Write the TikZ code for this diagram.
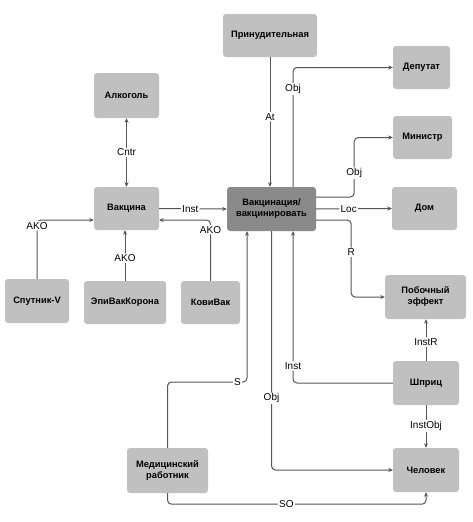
\documentclass[tikz,border=0pt]{standalone}
\usepackage{fontspec}
\setmainfont{Liberation Sans}
\usetikzlibrary{arrows.meta,calc}
\definecolor{boxfill}{HTML}{C0C0C0}
\definecolor{cenfill}{HTML}{8A8A8A}
\definecolor{linec}{HTML}{555555}
\tikzset{
  box/.style={draw=none, fill=boxfill, rounded corners=3pt, align=center, inner sep=1pt,
    font=\fontsize{9.3}{11}\selectfont\bfseries, text=black},
  cbox/.style={box, fill=cenfill},
  arr/.style={draw=linec, line width=1pt, rounded corners=4pt, -{Stealth[length=4.5pt,width=4pt]}},
  darr/.style={draw=linec, line width=1pt, rounded corners=4pt, {Stealth[length=4.5pt,width=4pt]}-{Stealth[length=4.5pt,width=4pt]}},
  lbl/.style={fill=white, inner sep=1.2pt, font=\fontsize{10}{11}\selectfont, text=black}
}
\begin{document}
\begin{tikzpicture}[x=1pt,y=-1pt]
\useasboundingbox[fill=white] (0,0) rectangle (472,522);
% nodes
\node[box, minimum width=94pt, minimum height=43pt] (prin) at (270,35.5) {Принудительная};
\node[box, minimum width=57pt, minimum height=43pt] (dep) at (421.5,67.5) {Депутат};
\node[box, minimum width=59pt, minimum height=43pt] (min) at (422.5,137.5) {Министр};
\node[box, minimum width=65pt, minimum height=43pt] (dom) at (424.5,208.5) {Дом};
\node[box, minimum width=65pt, minimum height=45pt] (alk) at (126.5,95.5) {Алкоголь};
\node[box, minimum width=65pt, minimum height=43pt] (vak) at (126.5,208.5) {Вакцина};
\node[cbox, minimum width=89pt, minimum height=44pt] (cen) at (271.5,209) {Вакцинация/\\вакцинировать};
\node[box, minimum width=64pt, minimum height=44pt] (spu) at (37,301) {Спутник-V};
\node[box, minimum width=82pt, minimum height=43pt] (epi) at (125,302.5) {ЭпиВакКорона};
\node[box, minimum width=59pt, minimum height=43pt] (kov) at (210.5,302.5) {КовиВак};
\node[box, minimum width=81pt, minimum height=44pt] (pob) at (425.5,297) {Побочный\\эффект};
\node[box, minimum width=66pt, minimum height=44pt] (shp) at (426,383) {Шприц};
\node[box, minimum width=66pt, minimum height=44pt] (che) at (426,470) {Человек};
\node[box, minimum width=81pt, minimum height=45pt] (med) at (167.5,470.5) {Медицинский\\работник};
\coordinate (sbend) at (247,382);
% connectors
\draw[arr] (prin.south) -- (prin.south |- cen.north) node[lbl, pos=0.46] {At};
\draw[arr] ([xshift=21.5pt]cen.north) |- (dep.west) node[lbl, pos=0.41] {Obj};
\draw[arr] ([yshift=12pt]cen.east) -- ++(38,0) |- (min.west) node[lbl, pos=0.2] {Obj};
\draw[arr] (cen.east) -- (dom.west) node[lbl, pos=0.43] {Loc};
\draw[arr] ([yshift=-11pt]cen.east) -- ++(35,0) |- (pob.west) node[lbl, pos=0.21] {R};
\draw[darr] (vak.north) -- (alk.south) node[lbl, pos=0.5] {Cntr};
\draw[arr] (vak.east) -- (cen.west) node[lbl, pos=0.46] {Inst};
\draw[arr] (kov.north) |- ([yshift=-11.5pt]vak.east) node[lbl, pos=0.42] {AKO};
\draw[arr] (spu.north) |- ([yshift=-11.5pt]vak.west) node[lbl, pos=0.45] {AKO};
\draw[arr] (epi.north) -- (epi.north |- vak.south) node[lbl, pos=0.45] {AKO};
\draw[arr] (med.north) |- (sbend) node[lbl, pos=0.94] {S} -- ([xshift=-24.5pt]cen.south);
\draw[arr] (cen.south) |- (che.west) node[lbl, pos=0.35] {Obj};
\draw[arr] (shp.west) -| ([xshift=21.5pt]cen.south) node[lbl, pos=0.556] {Inst};
\draw[arr] (shp.north) -- (shp.north |- pob.south) node[lbl, pos=0.45] {InstR};
\draw[arr] (shp.south) -- (che.north) node[lbl, pos=0.49] {InstObj};
\draw[arr] (med.south) -- ++(0,11) -| (che.south) node[lbl, pos=0.23] {SO};
\end{tikzpicture}
\end{document}
